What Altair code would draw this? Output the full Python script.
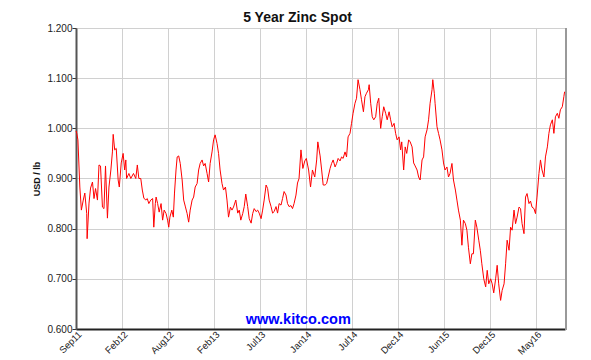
import json
import altair as alt
import pandas as pd

TITLE = "5 Year Zinc Spot"
Y_TITLE = "USD / lb"
WATERMARK = "www.kitco.com"

# x positions are trading-day indices from the start of the 5-year window
DAYS = [
    0, 2, 5, 10, 14, 19, 23, 28, 29, 34, 38, 43, 47, 51, 56, 60, 64, 69, 73, 77,
    82, 86, 91, 95, 97, 101, 105, 110, 113, 118, 123, 127, 130, 132, 138, 143, 150, 156, 160, 164,
    169, 173, 177, 182, 186, 190, 195, 200, 203, 207, 209, 213, 217, 222, 226, 230, 235, 239, 242, 245,
    250, 254, 257, 261, 264, 268, 272, 277, 281, 285, 290, 294, 298, 303, 307, 311, 316, 320, 324, 329,
    333, 337, 342, 346, 350, 355, 359, 363, 368, 372, 376, 381, 385, 390, 394, 398, 403, 407, 411,
    417, 422, 426, 430, 435, 439, 443, 448, 452, 457, 461, 465, 470, 474, 478, 483, 487, 491, 496, 500,
    504, 509, 513, 517, 522, 526, 530, 535, 539, 543, 548, 552, 556, 561, 565, 569, 574, 578, 582, 587,
    592, 597, 601, 607, 612, 617, 623, 628, 631, 637, 641, 645, 650, 654, 658, 663, 667, 671, 676, 680,
    684, 689, 693, 697, 702, 706, 710, 715, 719, 723, 728, 732, 736, 741, 745, 750, 754, 758, 763, 765,
    769, 773, 777, 782, 786, 790, 795, 799, 803, 808, 812, 817, 821, 825, 830, 834, 838, 843, 847, 850,
    855, 859, 863, 868, 872, 877, 881, 885, 890, 894, 898, 903, 907, 911, 916, 920, 924, 929, 931, 935,
    937, 942, 946, 950, 955, 959, 963, 968, 972, 976, 981, 985, 990, 994, 998, 1003, 1007, 1011, 1016, 1020,
    1024, 1029, 1033, 1037, 1042, 1046, 1051, 1055, 1059, 1064, 1069, 1073, 1077, 1082, 1086, 1090, 1095, 1099, 1103, 1108,
    1112, 1117, 1121, 1125, 1130, 1134, 1138, 1143, 1147, 1151, 1156, 1160, 1164, 1169, 1173, 1177, 1182, 1186, 1190, 1195,
    1199, 1203, 1208, 1212, 1216, 1221, 1225, 1230, 1234, 1238, 1243, 1247, 1251, 1256, 1260, 1264, 1269, 1273, 1275,
]

PRICES = [
    0.995, 0.990, 0.977, 0.883, 0.837, 0.857, 0.871, 0.830, 0.780, 0.851, 0.881, 0.893, 0.860, 0.880, 0.857, 0.927, 0.925, 0.843, 0.840, 0.925,
    0.821, 0.883, 0.917, 0.953, 0.988, 0.957, 0.960, 0.897, 0.883, 0.931, 0.950, 0.917, 0.937, 0.900, 0.910, 0.900, 0.910, 0.900, 0.927, 0.900,
    0.900, 0.877, 0.861, 0.857, 0.860, 0.850, 0.857, 0.860, 0.803, 0.850, 0.863, 0.850, 0.833, 0.850, 0.817, 0.837, 0.830, 0.817, 0.803, 0.823,
    0.837, 0.823, 0.871, 0.917, 0.943, 0.945, 0.930, 0.897, 0.857, 0.845, 0.830, 0.813, 0.837, 0.857, 0.863, 0.883, 0.890, 0.917, 0.930, 0.937,
    0.925, 0.930, 0.910, 0.893, 0.930, 0.953, 0.977, 0.987, 0.970, 0.950, 0.917, 0.890, 0.877, 0.883, 0.857, 0.823, 0.843, 0.837, 0.843,
    0.857, 0.831, 0.837, 0.817, 0.830, 0.844, 0.869, 0.844, 0.820, 0.811, 0.830, 0.840, 0.834, 0.837, 0.831, 0.820, 0.837, 0.857, 0.887, 0.880,
    0.857, 0.844, 0.831, 0.834, 0.844, 0.831, 0.850, 0.847, 0.860, 0.874, 0.867, 0.850, 0.844, 0.846, 0.840, 0.850, 0.867, 0.891, 0.900, 0.957,
    0.920, 0.935, 0.940, 0.917, 0.883, 0.917, 0.903, 0.937, 0.973, 0.945, 0.917, 0.887, 0.887, 0.890, 0.903, 0.920, 0.930, 0.937, 0.923, 0.930,
    0.940, 0.935, 0.943, 0.940, 0.953, 0.943, 0.983, 0.990, 1.010, 1.030, 1.050, 1.060, 1.097, 1.077, 1.057, 1.033, 1.063, 1.070, 1.077, 1.087,
    1.050, 1.023, 1.017, 1.023, 1.050, 1.060, 1.000, 1.023, 1.043, 1.030, 1.017, 1.033, 1.017, 1.003, 1.010, 0.990, 0.977, 0.983, 0.957, 0.973,
    0.917, 0.963, 0.950, 0.977, 0.973, 0.963, 0.931, 0.925, 0.917, 0.903, 0.897, 0.937, 0.943, 0.983, 0.997, 1.017, 1.050, 1.077, 1.097, 1.070,
    1.050, 1.003, 0.990, 0.977, 0.957, 0.931, 0.917, 0.923, 0.903, 0.910, 0.930, 0.897, 0.877, 0.857, 0.837, 0.817, 0.767, 0.817, 0.810, 0.797,
    0.763, 0.730, 0.750, 0.750, 0.817, 0.803, 0.777, 0.757, 0.730, 0.700, 0.684, 0.717, 0.690, 0.700, 0.690, 0.672, 0.700, 0.727, 0.690, 0.657,
    0.677, 0.690, 0.730, 0.777, 0.757, 0.803, 0.797, 0.837, 0.810, 0.823, 0.843, 0.840, 0.810, 0.790, 0.863, 0.870, 0.850, 0.855, 0.843, 0.840,
    0.830, 0.863, 0.910, 0.937, 0.917, 0.903, 0.943, 0.963, 0.990, 1.007, 1.017, 0.990, 1.023, 1.030, 1.020, 1.037, 1.043, 1.063, 1.073,
]

TICK_LABELS = ["Sep11", "Feb12", "Aug12", "Feb13", "Jul13", "Jan14",
               "Jul14", "Dec14", "Jun15", "Dec15", "May16"]
GRID_STEP = 60
LABEL_STEP = 120
X_MAX = 1276
Y_TICKS = [0.6, 0.7, 0.8, 0.9, 1.0, 1.1, 1.2]

WM_DAY = [580]
WM_PRICE = [0.610]

W, H = 489, 301
FONT = "Arial, 'Liberation Sans', sans-serif"

df = pd.DataFrame({"day": DAYS, "price": PRICES})
wm = pd.DataFrame({"day": WM_DAY, "price": WM_PRICE, "text": [WATERMARK]})
title_df = pd.DataFrame({"text": [TITLE]})

grid_values = list(range(0, X_MAX, GRID_STEP))
label_expr = (
    f"datum.value % {LABEL_STEP} === 0 ? "
    + json.dumps(TICK_LABELS)
    + f"[datum.value / {LABEL_STEP}] : ''"
)

x_scale = alt.Scale(domain=[0, X_MAX], nice=False, zero=False)
y_scale = alt.Scale(domain=[0.6, 1.2], nice=False, zero=False)

x_axis = alt.Axis(
    values=grid_values, labelExpr=label_expr, labelAngle=-45,
    labelAlign="right", labelBaseline="top", labelPadding=0,
    labelOverlap=False, labelFontSize=9.5, labelColor="#222",
    ticks=False, tickSize=0, domainColor="#222", domainWidth=2,
    grid=True, gridColor="#d0d0d0", gridWidth=1, title=None,
)
y_axis = alt.Axis(
    values=Y_TICKS, format=".3f", labelFontSize=10, labelColor="#222",
    tickSize=4, tickColor="#333", labelPadding=0,
    domainColor="#555", domainWidth=2,
    grid=True, gridColor="#d0d0d0", gridWidth=1,
    title=Y_TITLE, titleFontSize=9, titleFontWeight="bold", titleColor="#111",
    titlePadding=5,
)

line = alt.Chart(df).mark_line(color="#ff0000", strokeWidth=1).encode(
    x=alt.X("day:Q", scale=x_scale, axis=x_axis),
    y=alt.Y("price:Q", scale=y_scale, axis=y_axis),
)

watermark = alt.Chart(wm).mark_text(
    color="#0000ff", fontSize=14.5, fontWeight="bold", font=FONT,
    align="center", baseline="alphabetic",
).encode(
    x=alt.X("day:Q", scale=x_scale),
    y=alt.Y("price:Q", scale=y_scale),
    text="text:N",
)

# chart title, centred on the whole picture (above the plot area)
title_mark = alt.Chart(title_df).mark_text(
    color="#111", fontSize=14, fontWeight="bold", font=FONT,
    align="center", baseline="alphabetic",
).encode(
    x=alt.value(W / 2 - 23), y=alt.value(-6), text="text:N",
)

right_edge = alt.Chart(wm).mark_rule(color="#999999", strokeWidth=2).encode(
    x=alt.value(W + 1), y=alt.value(0), y2=alt.value(H + 1),
)

chart = alt.layer(line, watermark, right_edge, title_mark).properties(
    width=W, height=H,
    autosize=alt.AutoSizeParams(type="none"),
    padding={"left": 68, "top": 20, "right": 18, "bottom": 31},
).configure(
    font=FONT,
).configure_view(
    stroke="#333", strokeWidth=1,
).configure_axis(
    labelFont=FONT, titleFont=FONT,
)

chart.save("out.html", embed_options={"renderer": "svg", "actions": False})
